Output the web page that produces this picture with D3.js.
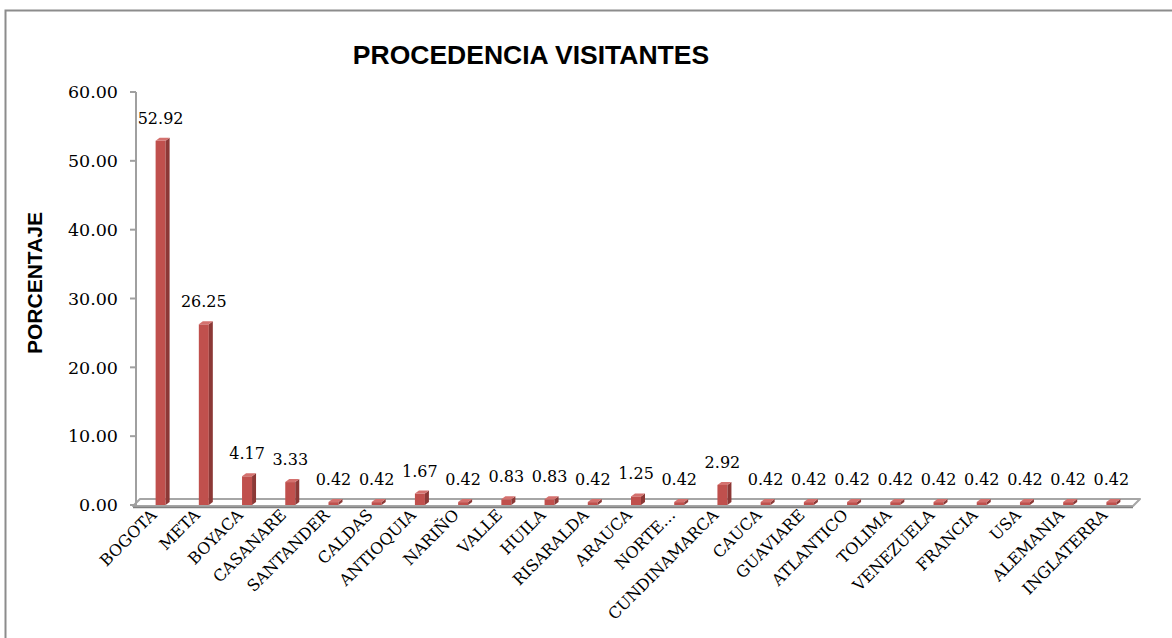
<!DOCTYPE html>
<html>
<head>
<meta charset="utf-8">
<script src="https://cdn.jsdelivr.net/npm/d3@7"></script>
<style>
  html, body { margin: 0; padding: 0; background: #fff; }
  svg { display: block; }
</style>
</head>
<body>
<script>
// data
var categories = ['BOGOTA', 'META', 'BOYACA', 'CASANARE', 'SANTANDER', 'CALDAS', 'ANTIOQUIA',
  'NARIÑO', 'VALLE', 'HUILA', 'RISARALDA', 'ARAUCA', 'NORTE…', 'CUNDINAMARCA', 'CAUCA',
  'GUAVIARE', 'ATLANTICO', 'TOLIMA', 'VENEZUELA', 'FRANCIA', 'USA', 'ALEMANIA', 'INGLATERRA'];
var values = [52.92, 26.25, 4.17, 3.33, 0.42, 0.42, 1.67, 0.42, 0.83, 0.83, 0.42, 1.25, 0.42,
  2.92, 0.42, 0.42, 0.42, 0.42, 0.42, 0.42, 0.42, 0.42, 0.42];
var yTicks = [0, 10, 20, 30, 40, 50, 60];
var title = 'PROCEDENCIA VISITANTES';
var yTitle = 'PORCENTAJE';

var width = 1172,
	height = 638,
	depthX = 7,
	depthY = 7,
	barW = 10,
	sideX = 4,
	sideY = 3;

var svg = d3.select('body').append('svg')
	.attr('width', width)
	.attr('height', height);

// outer chart border (cut by the window on right and bottom)
svg.append('rect')
	.attr('x', 5.5).attr('y', 10.5)
	.attr('width', 1300).attr('height', 800)
	.attr('fill', 'none')
	.attr('stroke', '#8c8c8c')
	.attr('stroke-width', 2);

var x = d3.scaleBand().domain(categories).range([139, 1133]);
var y = d3.scaleLinear().domain([0, 60]).range([505, 92]);

// title
svg.append('text')
	.attr('x', 531).attr('y', 64)
	.attr('text-anchor', 'middle')
	.style('font-family', '"Liberation Sans", Arial, sans-serif')
	.style('font-weight', 'bold')
	.style('font-size', '26.5px')
	.text(title);

// y axis title
svg.append('text')
	.attr('transform', 'translate(42,283) rotate(-90)')
	.attr('text-anchor', 'middle')
	.style('font-family', '"Liberation Sans", Arial, sans-serif')
	.style('font-weight', 'bold')
	.style('font-size', '21px')
	.text(yTitle);

// floor
var x0 = x.range()[0] - 6, x1 = x.range()[1];
var y0 = y(0) + 1;
svg.append('path')
	.attr('d', 'M' + x0 + ',' + y0 + 'L' + x1 + ',' + y0 + 'L' + (x1 + depthX) + ',' + (y0 - depthY)
		+ 'L' + (x0 + depthX) + ',' + (y0 - depthY) + 'Z')
	.attr('fill', '#fff')
	.attr('stroke', '#a6a6a6')
	.attr('stroke-width', 2)
	.attr('stroke-linejoin', 'round');
svg.append('line')
	.attr('x1', x0).attr('x2', x1)
	.attr('y1', y0 + 1.5).attr('y2', y0 + 1.5)
	.attr('stroke', '#7f7f7f').attr('stroke-width', 1.5);

// y axis
var yAxis = svg.append('g');
yAxis.append('line')
	.attr('x1', 136).attr('x2', 136)
	.attr('y1', y(60)).attr('y2', y(0) + 1)
	.attr('stroke', '#a0a0a0').attr('stroke-width', 2);
yAxis.selectAll('line.tick').data(yTicks).enter().append('line')
	.attr('class', 'tick')
	.attr('x1', 130).attr('x2', 136)
	.attr('y1', function(d) { return y(d); })
	.attr('y2', function(d) { return y(d); })
	.attr('stroke', '#a0a0a0').attr('stroke-width', 2);
yAxis.selectAll('text').data(yTicks).enter().append('text')
	.attr('x', 118)
	.attr('y', function(d) { return y(d); })
	.attr('dy', '0.36em')
	.attr('text-anchor', 'end')
	.style('font-family', '"DejaVu Serif", serif')
	.style('font-size', '17.5px')
	.text(function(d) { return d3.format('.2f')(d); });

// 3D columns
var bars = svg.selectAll('g.bar').data(values).enter().append('g').attr('class', 'bar');

function cx(d, i) { return x(categories[i]) + x.bandwidth() / 2; }

bars.append('rect')
	.attr('x', function(d, i) { return cx(d, i) - barW / 2; })
	.attr('y', function(d) { return y(d); })
	.attr('width', barW)
	.attr('height', function(d) { return y(0) - y(d); })
	.attr('fill', '#c0504d');

bars.append('path')
	.attr('d', function(d, i) {
		var l = cx(d, i) + barW / 2, t = y(d), b = y(0);
		return 'M' + l + ',' + t + 'L' + (l + sideX) + ',' + (t - sideY) + 'L' + (l + sideX) + ',' + (b - sideY)
			+ 'L' + l + ',' + b + 'Z';
	})
	.attr('fill', '#8c3836');

bars.append('path')
	.attr('d', function(d, i) {
		var l = cx(d, i) - barW / 2, t = y(d);
		return 'M' + l + ',' + t + 'L' + (l + sideX) + ',' + (t - sideY) + 'L' + (l + barW + sideX) + ',' + (t - sideY)
			+ 'L' + (l + barW) + ',' + t + 'Z';
	})
	.attr('fill', '#d4716e');

// value labels
bars.append('text')
	.attr('x', function(d, i) { return cx(d, i); })
	.attr('y', function(d) { return y(d) - 17; })
	.attr('text-anchor', 'middle')
	.style('font-family', '"DejaVu Serif", serif')
	.style('font-size', '16px')
	.text(function(d) { return d3.format('.2f')(d); });

// category labels
svg.selectAll('text.cat').data(categories).enter().append('text')
	.attr('class', 'cat')
	.attr('text-anchor', 'end')
	.attr('transform', function(d) {
		return 'translate(' + (x(d) + x.bandwidth() / 2 - 3) + ',516) rotate(-45)';
	})
	.style('font-family', '"DejaVu Serif", serif')
	.style('font-size', '16px')
	.text(function(d) { return d; });
</script>
</body>
</html>
